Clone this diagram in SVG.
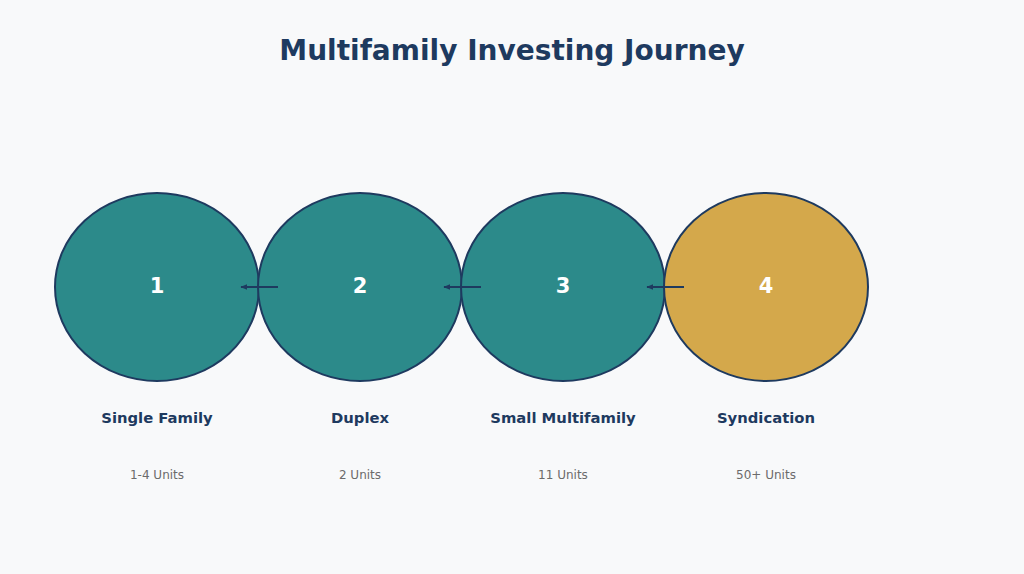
<svg xmlns="http://www.w3.org/2000/svg" width="1024" height="574" viewBox="0 0 1024 574">
<style>
.t{font-family:"DejaVu Sans",sans-serif;font-weight:bold;font-size:28px;fill:#1e3a5f;text-anchor:middle}
.c{stroke:#1e3a5f;stroke-width:2}
.teal{fill:#2c8a8a}
.gold{fill:#d4a84b}
.n{font-family:"DejaVu Sans",sans-serif;font-weight:bold;font-size:21px;fill:#fff;text-anchor:middle;dominant-baseline:central}
.l{font-family:"DejaVu Sans",sans-serif;font-weight:bold;font-size:14.8px;fill:#1e3a5f;text-anchor:middle}
.s{font-family:"DejaVu Sans",sans-serif;font-size:12px;fill:#6b6b6b;text-anchor:middle}
.a{stroke:#1e3a5f;stroke-width:2;fill:none}
</style>
<defs>
<marker id="ah" viewBox="0 0 10 10" refX="9" refY="5" markerWidth="3.5" markerHeight="3.5" orient="auto">
<path d="M10,5 L0,1 L0,9 Z" fill="#1e3a5f"/>
</marker>
</defs>
<rect width="1024" height="574" fill="#f8f9fa"/>
<text class="t" x="512" y="60">Multifamily Investing Journey</text>
<g id="node1">
<ellipse class="c teal" cx="157" cy="287" rx="102" ry="94"/>
<text class="n" x="157" y="286">1</text>
<text class="l" x="157" y="423">Single Family</text>
<text class="s" x="157" y="479">1-4 Units</text>
</g>
<g id="node2">
<ellipse class="c teal" cx="360" cy="287" rx="102" ry="94"/>
<text class="n" x="360" y="286">2</text>
<text class="l" x="360" y="423">Duplex</text>
<text class="s" x="360" y="479">2 Units</text>
</g>
<g id="node3">
<ellipse class="c teal" cx="563" cy="287" rx="102" ry="94"/>
<text class="n" x="563" y="286">3</text>
<text class="l" x="563" y="423">Small Multifamily</text>
<text class="s" x="563" y="479">11 Units</text>
</g>
<g id="node4">
<ellipse class="c gold" cx="766" cy="287" rx="102" ry="94"/>
<text class="n" x="766" y="286">4</text>
<text class="l" x="766" y="423">Syndication</text>
<text class="s" x="766" y="479">50+ Units</text>
</g>
<g id="connectors">
<line class="a" x1="278" y1="287" x2="241" y2="287" marker-end="url(#ah)"/>
<line class="a" x1="481" y1="287" x2="444" y2="287" marker-end="url(#ah)"/>
<line class="a" x1="684" y1="287" x2="647" y2="287" marker-end="url(#ah)"/>
</g>
</svg>
